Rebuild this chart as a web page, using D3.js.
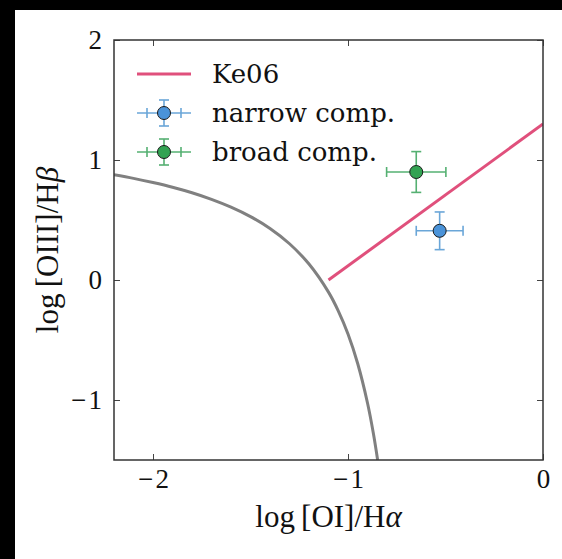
<!DOCTYPE html>
<html>
<head>
<meta charset="utf-8">
<script src="https://cdn.jsdelivr.net/npm/d3@7"></script>
<style>
  html, body { margin: 0; padding: 0; background: #fff; }
  svg { display: block; }
  text { fill: #111; }
</style>
</head>
<body>
<svg id="chart" width="562" height="559"></svg>
<script>
// ---- data ----
const xTicks = [-2, -1, 0];
const yTicks = [-1, 0, 1, 2];
const xDomain = [-2.2, 0];
const yDomain = [-1.5, 2];

// Ke06 Seyfert/LINER line (two end points)
const ke06X = [-1.1, 0.0];
const ke06Y = [0.0, 1.30];

// grey maximum-starburst curve
const curveX = [-2.2, -2.1, -2.0, -1.9, -1.8, -1.7, -1.6, -1.5, -1.4, -1.3, -1.2, -1.1, -1.05, -1.0, -0.95, -0.9, -0.87, -0.848];
const curveY = [0.877, 0.847, 0.812, 0.773, 0.727, 0.672, 0.607, 0.528, 0.429, 0.302, 0.133, -0.101, -0.257, -0.450, -0.698, -1.025, -1.277, -1.500];

const seriesNames = ["narrow comp.", "broad comp."];
const seriesX = [-0.53, -0.65];
const seriesY = [0.41, 0.90];
const seriesXErr = [0.12, 0.152];
const seriesYErr = [0.157, 0.17];

const colors = {
  ke06: "#e0507c",
  curve: "#808080",
  fill: ["#4a93d9", "#32a352"],
  err: ["#6aa6d8", "#55b072"]
};

// ---- layout ----
const svg = d3.select("#chart");
const L = 114, T = 40, R = 543, B = 460;
const x = d3.scaleLinear().domain(xDomain).range([L, R]);
const y = d3.scaleLinear().domain(yDomain).range([B, T]);
const mathFont = "Liberation Serif";
const legFont = "DejaVu Serif";

// black strips along top and left edge (photo border)
svg.append("rect").attr("x", 0).attr("y", 0).attr("width", 562).attr("height", 10).attr("fill", "#000");
svg.append("rect").attr("x", 0).attr("y", 0).attr("width", 15).attr("height", 559).attr("fill", "#000");

const clip = svg.append("defs").append("clipPath").attr("id", "plotclip");
clip.append("rect").attr("x", L).attr("y", T).attr("width", R - L).attr("height", B - T);

const plot = svg.append("g").attr("clip-path", "url(#plotclip)");

// grey curve
plot.append("path")
  .datum(curveX.map((v, i) => [v, curveY[i]]))
  .attr("d", d3.line().x(d => x(d[0])).y(d => y(d[1])).curve(d3.curveCatmullRom))
  .attr("fill", "none").attr("stroke", colors.curve).attr("stroke-width", 3);

// Ke06 line
plot.append("path")
  .datum(ke06X.map((v, i) => [v, ke06Y[i]]))
  .attr("d", d3.line().x(d => x(d[0])).y(d => y(d[1])))
  .attr("fill", "none").attr("stroke", colors.ke06).attr("stroke-width", 3);

// error bars + markers
const cap = 5;
seriesX.forEach((vx, i) => {
  const g = plot.append("g").attr("stroke", colors.err[i]).attr("stroke-width", 1.6);
  const cx = x(vx), cy = y(seriesY[i]);
  const x0 = x(vx - seriesXErr[i]), x1 = x(vx + seriesXErr[i]);
  const y0 = y(seriesY[i] - seriesYErr[i]), y1 = y(seriesY[i] + seriesYErr[i]);
  g.append("line").attr("x1", x0).attr("x2", x1).attr("y1", cy).attr("y2", cy);
  g.append("line").attr("x1", cx).attr("x2", cx).attr("y1", y0).attr("y2", y1);
  [x0, x1].forEach(xx => g.append("line").attr("x1", xx).attr("x2", xx).attr("y1", cy - cap).attr("y2", cy + cap));
  [y0, y1].forEach(yy => g.append("line").attr("x1", cx - cap).attr("x2", cx + cap).attr("y1", yy).attr("y2", yy));
  plot.append("circle").attr("cx", cx).attr("cy", cy).attr("r", 6.5)
    .attr("fill", colors.fill[i]).attr("stroke", "#1a1a1a").attr("stroke-width", 1);
});

// ---- axes (inward ticks on all sides) ----
const tickLen = 6;
const tickFs = 27;
const fmt = d => (d < 0 ? "\u2212\u200a" + Math.abs(d) : String(d));

const axB = d3.axisBottom(x).tickValues(xTicks).tickSize(-tickLen).tickPadding(9).tickFormat(fmt);
const axT = d3.axisTop(x).tickValues(xTicks).tickSize(-tickLen).tickFormat("");
const axL = d3.axisLeft(y).tickValues(yTicks).tickSize(-tickLen).tickPadding(12).tickFormat(fmt);
const axR = d3.axisRight(y).tickValues(yTicks).tickSize(-tickLen).tickFormat("");

function styleAxis(g) {
  g.select(".domain").remove();
  g.selectAll(".tick line").attr("stroke", "#444").attr("stroke-width", 1);
  g.selectAll(".tick text").attr("font-size", tickFs).attr("font-family", mathFont).attr("fill", "#111");
}
svg.append("g").attr("transform", `translate(0,${B})`).call(axB).call(styleAxis);
svg.append("g").attr("transform", `translate(0,${T})`).call(axT).call(styleAxis);
svg.append("g").attr("transform", `translate(${L},0)`).call(axL).call(styleAxis);
svg.append("g").attr("transform", `translate(${R},0)`).call(axR).call(styleAxis);

// frame
svg.append("rect").attr("x", L).attr("y", T).attr("width", R - L).attr("height", B - T)
  .attr("fill", "none").attr("stroke", "#333").attr("stroke-width", 1.5);

// axis labels
const labelFs = 31;
const xl = svg.append("text").attr("x", (L + R) / 2).attr("y", 527).attr("text-anchor", "middle")
  .attr("font-size", labelFs).attr("font-family", mathFont);
xl.append("tspan").text("log\u2009[OI]/H");
xl.append("tspan").attr("font-style", "italic").text("\u03b1");

const yl = svg.append("text").attr("transform", `translate(58,${(T + B) / 2}) rotate(-90)`).attr("text-anchor", "middle")
  .attr("font-size", labelFs).attr("font-family", mathFont);
yl.append("tspan").text("log\u2009[OIII]/H");
yl.append("tspan").attr("font-style", "italic").text("\u03b2");

// ---- legend ----
const legFs = 26;
const leg = svg.append("g");
const hx0 = 137, hx1 = 191, hcx = 164;
const rows = [74, 113, 152];
leg.append("line").attr("x1", hx0).attr("x2", hx1).attr("y1", rows[0]).attr("y2", rows[0])
  .attr("stroke", colors.ke06).attr("stroke-width", 3);
leg.append("text").attr("x", 212).attr("y", rows[0] + 9).attr("font-size", legFs).attr("font-family", legFont).text("Ke06");
seriesNames.forEach((name, i) => {
  const cy = rows[i + 1];
  const g = leg.append("g").attr("stroke", colors.err[i]).attr("stroke-width", 1.6);
  g.append("line").attr("x1", hx0).attr("x2", hx1).attr("y1", cy).attr("y2", cy);
  g.append("line").attr("x1", hcx).attr("x2", hcx).attr("y1", cy - 13).attr("y2", cy + 13);
  [147, 181].forEach(xx => g.append("line").attr("x1", xx).attr("x2", xx).attr("y1", cy - cap).attr("y2", cy + cap));
  [cy - 13, cy + 13].forEach(yy => g.append("line").attr("x1", hcx - cap).attr("x2", hcx + cap).attr("y1", yy).attr("y2", yy));
  leg.append("circle").attr("cx", hcx).attr("cy", cy).attr("r", 6.5)
    .attr("fill", colors.fill[i]).attr("stroke", "#1a1a1a").attr("stroke-width", 1);
  leg.append("text").attr("x", 212).attr("y", cy + 9).attr("font-size", legFs).attr("font-family", legFont).text(name);
});
</script>
</body>
</html>
